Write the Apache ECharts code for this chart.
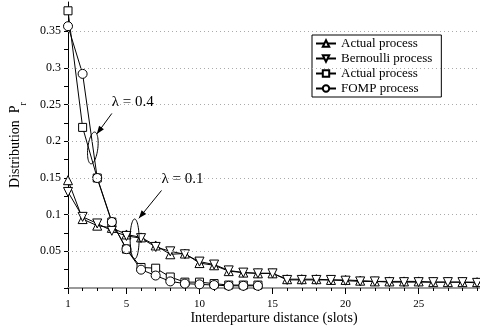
<!DOCTYPE html>
<html><head><meta charset="utf-8">
<script src="https://cdn.jsdelivr.net/npm/echarts@6/dist/echarts.min.js"></script>
<style>html,body{margin:0;padding:0;background:#fff}#c{width:480px;height:334px}</style>
</head><body><div id="c"></div>
<script>
// ---- data ----
var xLow = [1,2,3,4,5,6,7,8,9,10,11,12,13,14,15,16,17,18,19,20,21,22,23,24,25,26,27,28,29];
var actualLow = [0.147,0.094,0.085,0.082,0.073,0.069,0.058,0.046,0.047,0.034,0.031,0.023,0.021,0.020,0.020,0.012,0.012,0.012,0.011,0.011,0.010,0.009,0.009,0.009,0.009,0.008,0.008,0.008,0.008];
var bernoulliLow = [0.131,0.097,0.088,0.078,0.071,0.068,0.056,0.050,0.046,0.036,0.032,0.024,0.021,0.020,0.020,0.011,0.011,0.011,0.011,0.010,0.009,0.009,0.008,0.008,0.008,0.008,0.008,0.008,0.007];
var xHigh = [1,2,3,4,5,6,7,8,9,10,11,12,13,14];
var actualHigh = [0.378,0.219,0.150,0.090,0.053,0.028,0.027,0.015,0.008,0.008,0.006,0.004,0.004,0.004];
var fompHigh = [0.357,0.292,0.150,0.090,0.053,0.025,0.017,0.009,0.006,0.005,0.004,0.003,0.003,0.003];
var seriesNames = ['Actual process','Bernoulli process','Actual process ','FOMP process'];
var xMinorTicks = [1,2,3,4,5,6,7,8,9,10,11,12,13,14,15,16,17,18,19,20,21,22,23,24,25,26,27,28,29];
var xMajorTicks = [1,5,10,15,20,25];
var yTicks = [0,0.025,0.05,0.075,0.1,0.125,0.15,0.175,0.2,0.225,0.25,0.275,0.3,0.325,0.35,0.375];
var yLabels = [0.05,0.1,0.15,0.2,0.25,0.3,0.35];
var gridLines = [0.05,0.1,0.15,0.2,0.25,0.3,0.35];
// annotations (in data coordinates)
var annotations = [
  {text:'λ = 0.4', textAt:[4.0,0.252], arrowFrom:[4.0,0.238], arrowTo:[2.97,0.210], ellipse:[2.70,0.191], rx:5, ry:16, rot:0.12},
  {text:'λ = 0.1', textAt:[7.4,0.147], arrowFrom:[7.4,0.133], arrowTo:[5.85,0.095], ellipse:[5.56,0.0668], rx:4.5, ry:20, rot:0}
];

var FONT = 'Liberation Serif';
function pairs(xs, ys){ return xs.map(function(x,i){return [x, ys[i]];}); }
function mkSeries(name, xs, ys, symbol, size, rotate){
  return {
    name: name, type:'line', data: pairs(xs, ys),
    symbol: symbol, symbolSize: size, symbolRotate: rotate || 0, showAllSymbol: true,
    lineStyle:{color:'#000', width:1},
    itemStyle:{color:'#fff', borderColor:'#000', borderWidth:1},
    emphasis:{disabled:true}, animation:false, z:3
  };
}
var chart = echarts.init(document.getElementById('c'), null, {renderer:'canvas'});
var series = [
  mkSeries(seriesNames[0], xLow, actualLow, 'triangle', 9),
  mkSeries(seriesNames[1], xLow, bernoulliLow, 'triangle', 9, 180),
  mkSeries(seriesNames[2], xHigh, actualHigh, 'rect', 8),
  mkSeries(seriesNames[3], xHigh, fompHigh, 'circle', 9)
];
series.push({
  type:'line', data:[], silent:true, animation:false,
  markLine:{silent:true, symbol:['none','none'], label:{show:false},
    lineStyle:{color:'#aaa', type:[1,3], width:1},
    data: gridLines.map(function(v){return {yAxis:v};})}
});
chart.setOption({
  animation:false,
  backgroundColor:'#fff',
  textStyle:{fontFamily:FONT},
  grid:{left:66, right:0, top:2, bottom:46, containLabel:false},
  legend:{
    left:312, top:35, orient:'vertical', itemWidth:20, itemHeight:8, itemGap:2,
    padding:[2,9,2,3], borderColor:'#000', borderWidth:1, backgroundColor:'#fff',
    data: seriesNames, textStyle:{fontFamily:FONT, fontSize:13, color:'#000'},
    selectedMode:false
  },
  xAxis:[{
    type:'value', min:1, max:29.2, position:'bottom',
    axisLine:{show:true, onZero:false, lineStyle:{color:'#999', width:2}},
    axisTick:{show:true, customValues:xMinorTicks, length:3, inside:false, lineStyle:{color:'#000'}},
    axisLabel:{show:false}, splitLine:{show:false},
    name:'Interdeparture distance (slots)', nameLocation:'middle', nameGap:23,
    nameTextStyle:{fontFamily:FONT, fontSize:14, color:'#000'}
  },{
    type:'value', min:1, max:29.2, position:'bottom',
    axisLine:{show:false},
    axisTick:{show:true, customValues:xMajorTicks, length:6, lineStyle:{color:'#000'}},
    axisLabel:{show:true, customValues:xMajorTicks, margin:11, fontFamily:FONT, fontSize:11, color:'#000'},
    splitLine:{show:false}
  }],
  yAxis:{
    type:'value', min:0, max:0.39,
    axisLine:{show:true, onZero:false, lineStyle:{color:'#000', width:1}},
    axisTick:{show:true, customValues:yTicks, length:4, lineStyle:{color:'#000'}},
    axisLabel:{show:true, customValues:yLabels, margin:7, fontFamily:FONT, fontSize:12, color:'#000'},
    splitLine:{show:false},
    name:'Distribution  P{sub|r}', nameLocation:'middle', nameGap:46, nameRotate:90,
    nameTextStyle:{fontFamily:FONT, fontSize:14, color:'#000',
      rich:{sub:{fontFamily:FONT, fontSize:10, verticalAlign:'bottom', padding:[0,0,-6,0], color:'#000'}}}
  },
  series: series
});

function px(p){ return chart.convertToPixel({gridIndex:0}, p); }
var g = [];
annotations.forEach(function(a){
  var t = px(a.textAt);
  g.push({type:'text', left:t[0], top:t[1]-9, style:{text:a.text, font:'15px "'+FONT+'"', fill:'#000'}, z:10});
  var f = px(a.arrowFrom), to = px(a.arrowTo);
  g.push({type:'line', shape:{x1:f[0], y1:f[1], x2:to[0], y2:to[1]}, style:{stroke:'#000', lineWidth:1}, z:10});
  var dx = to[0]-f[0], dy = to[1]-f[1], L = Math.sqrt(dx*dx+dy*dy); dx/=L; dy/=L;
  var hl = 8, hw = 3;
  g.push({type:'polygon', shape:{points:[[to[0],to[1]],[to[0]-dx*hl-dy*hw, to[1]-dy*hl+dx*hw],[to[0]-dx*hl+dy*hw, to[1]-dy*hl-dx*hw]]}, style:{fill:'#000'}, z:10});
  var c = px(a.ellipse), pts = [];
  for (var i=0;i<=60;i++){
    var th = i/60*2*Math.PI, ex = a.rx*Math.cos(th), ey = a.ry*Math.sin(th);
    pts.push([c[0]+ex*Math.cos(a.rot)-ey*Math.sin(a.rot), c[1]+ex*Math.sin(a.rot)+ey*Math.cos(a.rot)]);
  }
  g.push({type:'polyline', shape:{points:pts}, style:{stroke:'#000', lineWidth:1, fill:null}, z:10});
});
chart.setOption({graphic:g});
</script></body></html>
